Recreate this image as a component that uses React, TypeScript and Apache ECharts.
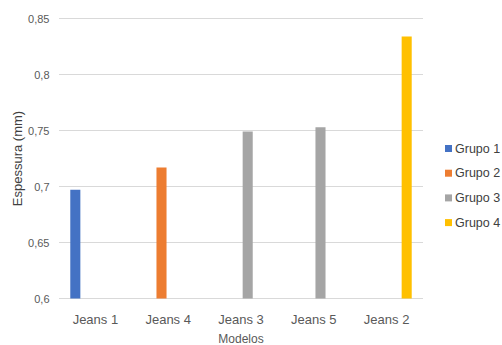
import React, { useEffect, useRef } from "react";
import * as echarts from "echarts";

const categories = ["Jeans 1", "Jeans 4", "Jeans 3", "Jeans 5", "Jeans 2"];
const groupNames = ["Grupo 1", "Grupo 2", "Grupo 3", "Grupo 4"];
const groupColors = ["#4472c4", "#ed7d31", "#a5a5a5", "#ffc000"];
const grupo1 = [0.697, null, null, null, null];
const grupo2 = [null, 0.717, null, null, null];
const grupo3 = [null, null, 0.749, 0.753, null];
const grupo4 = [null, null, null, null, 0.834];
const yMin = 0.6;
const yMax = 0.85;
const yStep = 0.05;

const FONT = "Liberation Sans";
const TEXT = "#595959";

export default function App() {
  const ref = useRef<HTMLDivElement>(null);

  useEffect(() => {
    if (!ref.current) return;
    const chart = echarts.init(ref.current, null, { renderer: "svg" });
    const values = [grupo1, grupo2, grupo3, grupo4];
    chart.setOption({
      animation: false,
      backgroundColor: "#ffffff",
      textStyle: { fontFamily: FONT },
      grid: {
        left: 59,
        right: 79,
        top: 18.5,
        bottom: 46.5,
        containLabel: false,
        outerBoundsMode: "none",
      },
      legend: {
        orient: "vertical",
        left: 440,
        top: 137,
        icon: "rect",
        itemWidth: 7,
        itemHeight: 7,
        itemGap: 11.7,
        textStyle: { color: "#404040", fontSize: 12.5, fontFamily: FONT, padding: [0, 0, 0, -2] },
        data: groupNames,
      },
      xAxis: {
        type: "category",
        data: categories,
        name: "Modelos",
        nameLocation: "middle",
        nameGap: 34,
        nameMoveOverlap: false,
        nameTextStyle: { color: TEXT, fontSize: 12, fontFamily: FONT },
        axisLine: { show: false },
        axisTick: { show: false },
        axisLabel: { color: TEXT, fontSize: 13, margin: 14, fontFamily: FONT },
      },
      yAxis: {
        type: "value",
        min: yMin,
        max: yMax,
        interval: yStep,
        name: "Espessura (mm)",
        nameLocation: "middle",
        nameGap: 35,
        nameMoveOverlap: false,
        nameTextStyle: { color: "#404040", fontSize: 13, fontFamily: FONT },
        axisLine: { show: false },
        axisTick: { show: false },
        axisLabel: {
          color: TEXT,
          fontSize: 11,
          margin: 9.5,
          fontFamily: FONT,
          formatter: (v: number) => String(parseFloat(v.toFixed(2))).replace(".", ","),
        },
        splitLine: { lineStyle: { color: "#d9d9d9", width: 1 } },
      },
      series: groupNames.map((name, i) => ({
        name,
        type: "bar",
        data: values[i],
        barGap: "33%",
        barCategoryGap: "31%",
        itemStyle: { color: groupColors[i] },
      })),
    });
    return () => chart.dispose();
  }, []);

  return (
    <div
      ref={ref}
      style={{ position: "absolute", left: 0, top: 0, width: 502, height: 345 }}
    />
  );
}
